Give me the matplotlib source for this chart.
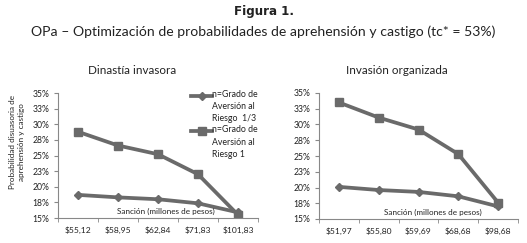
import matplotlib
matplotlib.use("Agg")
import matplotlib.pyplot as plt
from matplotlib.legend_handler import HandlerLine2D

plt.rcParams.update({"font.family": ["Lato", "DejaVu Sans"]})

GRAY = "#6a6a6a"
INK = "#222222"

# data
x_left = ["$55,12", "$58,95", "$62,84", "$71,83", "$101,83"]
left_tercio = [18.7, 18.3, 18.0, 17.35, 15.9]
left_uno = [28.8, 26.6, 25.2, 22.0, 15.5]

x_right = ["$51,97", "$55,80", "$59,69", "$68,68", "$98,68"]
right_tercio = [20.1, 19.6, 19.3, 18.6, 17.0]
right_uno = [33.5, 31.1, 29.2, 25.3, 17.6]

yticks = [15, 17.5, 20, 22.5, 25, 27.5, 30, 32.5, 35]
ytick_labels = ["15%", "18%", "20%", "23%", "25%", "28%", "30%", "33%", "35%"]

series_names = ["n=Grado de\nAversión al\nRiesgo  1/3", "n=Grado de\nAversión al\nRiesgo 1"]


class TopHandler(HandlerLine2D):
    # put the key beside the first line of a multi-line label (Excel style)
    def create_artists(self, legend, orig_handle, xdescent, ydescent, width, height, fontsize, trans):
        arts = super().create_artists(legend, orig_handle, xdescent, ydescent, width, height, fontsize, trans)
        for a in arts:
            a.set_ydata([y + fontsize * 1.3 for y in a.get_ydata()])
        return arts


fig = plt.figure(figsize=(5.27, 2.43), dpi=100)
fig.text(0.5, 1 - 12 / 243, "Figura 1.", ha="center", va="center", fontsize=8.6,
         fontweight="bold", family="DejaVu Sans", color=INK)
fig.text(0.5, 1 - 32 / 243, "OPa – Optimización de probabilidades de aprehensión y castigo (tc* = 53%)",
         ha="center", va="center", fontsize=10.1, color=INK)

W, H = 527, 243


def add_axes(x0, x1, y0, y1):
    return fig.add_axes([x0 / W, 1 - y1 / H, (x1 - x0) / W, (y1 - y0) / H])


def panel(ax, cats, s1, s2, title, title_x, xlab_pos):
    pos = range(len(cats))
    l1, = ax.plot(pos, s1, color=GRAY, lw=2.7, marker="D", ms=4.4, mfc=GRAY, mec=GRAY)
    l2, = ax.plot(pos, s2, color=GRAY, lw=2.7, marker="s", ms=6.2, mfc=GRAY, mec=GRAY)
    ax.set_ylim(15, 35)
    ax.set_xlim(-0.5, len(cats) - 0.5)
    ax.set_yticks(yticks)
    ax.set_yticklabels(ytick_labels, fontsize=6.2, color=INK)
    ax.set_xticks(list(pos))
    ax.set_xticklabels(cats, fontsize=6.1, color=INK)
    ax.set_xticks([p + 0.5 for p in range(-1, len(cats))], minor=True)
    ax.tick_params(axis="x", which="major", length=0, pad=6)
    ax.tick_params(axis="x", which="minor", length=3, color="#888888")
    ax.tick_params(axis="y", length=3, color="#888888", pad=3)
    for s in ("top", "right"):
        ax.spines[s].set_visible(False)
    for s in ("left", "bottom"):
        ax.spines[s].set_color("#888888")
        ax.spines[s].set_linewidth(0.8)
    ax.text(xlab_pos, 15.5, "Sanción (millones de pesos)", transform=ax.get_yaxis_transform(),
            ha="center", va="bottom", fontsize=5.9, color=INK)
    fig.text(title_x / W, 1 - 71 / H, title, ha="center", va="center", fontsize=8.4, color=INK)
    return l1, l2


axl = add_axes(58, 258, 93, 218)
l1, l2 = panel(axl, x_left, left_tercio, left_uno, "Dinastía invasora", 132, 0.54)
axl.set_ylabel("Probabilidad disuasoria de\naprehensión y castigo", fontsize=5.9,
               color=INK, linespacing=1.25)
axl.yaxis.set_label_coords(-0.165, 0.61)
leg = axl.legend([l1, l2], series_names, loc="upper left", bbox_to_anchor=(0.645, 1.06),
                 frameon=False, fontsize=6.3, handlelength=2.4, handletextpad=0.0,
                 labelspacing=0.25, borderpad=0.0, markerscale=0.9,
                 handler_map={l1: TopHandler(), l2: TopHandler()})
for t in leg.get_texts():
    t.set_color(INK)
    t.set_linespacing(1.45)

axr = add_axes(319, 518, 93, 219)
panel(axr, x_right, right_tercio, right_uno, "Invasión organizada", 397, 0.57)

fig.savefig("out.png", dpi=100)
